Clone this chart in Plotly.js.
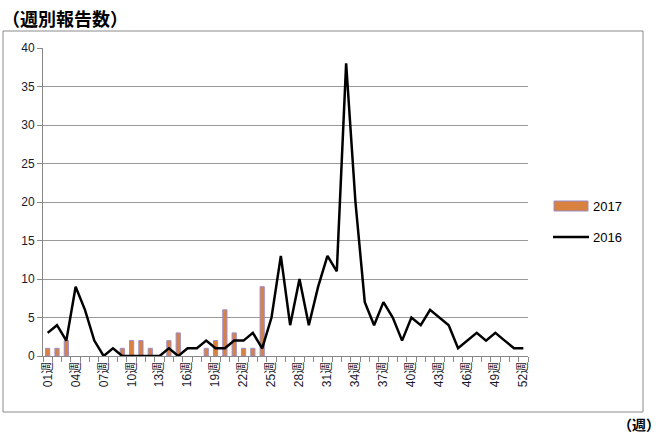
<!DOCTYPE html>
<html>
<head>
<meta charset="utf-8">
<script src="https://cdn.plot.ly/plotly-3.0.1.min.js"></script>
<style>html,body{margin:0;padding:0;background:#fff;}#chart{width:669px;height:435px;}</style>
</head>
<body>
<div id="chart"></div>
<script>
var weekLabels = ['01週','02週','03週','04週','05週','06週','07週','08週','09週','10週',
  '11週','12週','13週','14週','15週','16週','17週','18週','19週','20週',
  '21週','22週','23週','24週','25週','26週','27週','28週','29週','30週',
  '31週','32週','33週','34週','35週','36週','37週','38週','39週','40週',
  '41週','42週','43週','44週','45週','46週','47週','48週','49週','50週',
  '51週','52週'];
var shownLabels = ['01週','04週','07週','10週','13週','16週','19週','22週','25週','28週',
  '31週','34週','37週','40週','43週','46週','49週','52週'];
var weeks2017 = ['01週','02週','03週','04週','05週','06週','07週','08週','09週','10週',
  '11週','12週','13週','14週','15週','16週','17週','18週','19週','20週',
  '21週','22週','23週','24週'];
var values2017 = [1,1,2,0,0,0,0,0,1,2,2,1,0,2,3,0,0,1,2,6,3,1,1,9];
var values2016 = [3,4,2,9,6,2,0,1,0,0,0,0,0,1,0,1,1,2,1,1,2,2,3,1,5,13,4,10,4,9,
  13,11,38,20,7,4,7,5,2,5,4,6,5,4,1,2,3,2,3,2,1,1];
var seriesNames = ['2017','2016'];
var yTicks = [0,5,10,15,20,25,30,35,40];

var font = 'Liberation Sans, Arial, "Noto Sans CJK JP", sans-serif';
var cjk = '"Noto Sans CJK JP", sans-serif';
var barColor = '#D9823F', barEdge = '#9A8CC8';

var traces = [
  {type:'bar', name:seriesNames[0], x:weeks2017,
   y:values2017.map(function(v){return v === 0 ? null : v;}), width:0.45,
   marker:{color:barColor, line:{color:barEdge, width:1}}},
  {type:'scatter', mode:'lines', name:seriesNames[1], x:weekLabels, y:values2016,
   line:{color:'#000000', width:2.5}}
];

// plot area in px: x 43..528, y 48..356
function px(x){return (x-43)/485;}
function py(y){return (356-y)/308;}

var layout = {
  width:669, height:435,
  margin:{l:43, r:141, t:48, b:79},
  paper_bgcolor:'#ffffff', plot_bgcolor:'#ffffff',
  showlegend:false,
  xaxis:{type:'category', categoryorder:'array', categoryarray:weekLabels,
    range:[-0.5, 51.5], tickmode:'array', tickvals:weekLabels,
    ticktext:weekLabels.map(function(w){return shownLabels.indexOf(w)>=0 ? w : '';}),
    tickson:'boundaries', ticks:'outside', ticklen:5, tickcolor:'#888', tickangle:-90,
    tickfont:{family:font, size:12, color:'#1a1a2e'},
    showline:true, linecolor:'#888', linewidth:1, showgrid:false, zeroline:false, fixedrange:true},
  yaxis:{range:[0,40], tickmode:'array', tickvals:yTicks, ticks:'outside', ticklen:5, tickcolor:'#888',
    tickfont:{family:font, size:12, color:'#1a1a2e'},
    showline:true, linecolor:'#888', linewidth:1, showgrid:true, gridcolor:'#999', gridwidth:1,
    zeroline:false, fixedrange:true},
  shapes:[
    {type:'rect', xref:'paper', yref:'paper', x0:px(3), x1:px(643), y0:py(412), y1:py(31),
     line:{color:'#8a8a8a', width:1}, fillcolor:'rgba(0,0,0,0)', layer:'below'},
    {type:'rect', xref:'paper', yref:'paper', x0:px(554), x1:px(588), y0:py(211), y1:py(201),
     line:{color:barEdge, width:1}, fillcolor:barColor},
    {type:'line', xref:'paper', yref:'paper', x0:px(553), x1:px(589), y0:py(237), y1:py(237),
     line:{color:'#000', width:2.5}}
  ],
  annotations:[
    {text:'<b>（週別報告数）</b>', xref:'paper', yref:'paper', x:px(0), y:py(18), xanchor:'left', yanchor:'middle',
     showarrow:false, font:{family:cjk, size:18, color:'#000'}},
    {text:'<b>（週）</b>', xref:'paper', yref:'paper', x:px(662), y:py(424), xanchor:'right', yanchor:'middle',
     showarrow:false, font:{family:cjk, size:14, color:'#000'}},
    {text:seriesNames[0], xref:'paper', yref:'paper', x:px(591), y:py(206), xanchor:'left', yanchor:'middle',
     showarrow:false, font:{family:font, size:13, color:'#000'}},
    {text:seriesNames[1], xref:'paper', yref:'paper', x:px(591), y:py(237), xanchor:'left', yanchor:'middle',
     showarrow:false, font:{family:font, size:13, color:'#000'}}
  ]
};

Plotly.newPlot('chart', traces, layout, {staticPlot:true, displayModeBar:false});
</script>
</body>
</html>
